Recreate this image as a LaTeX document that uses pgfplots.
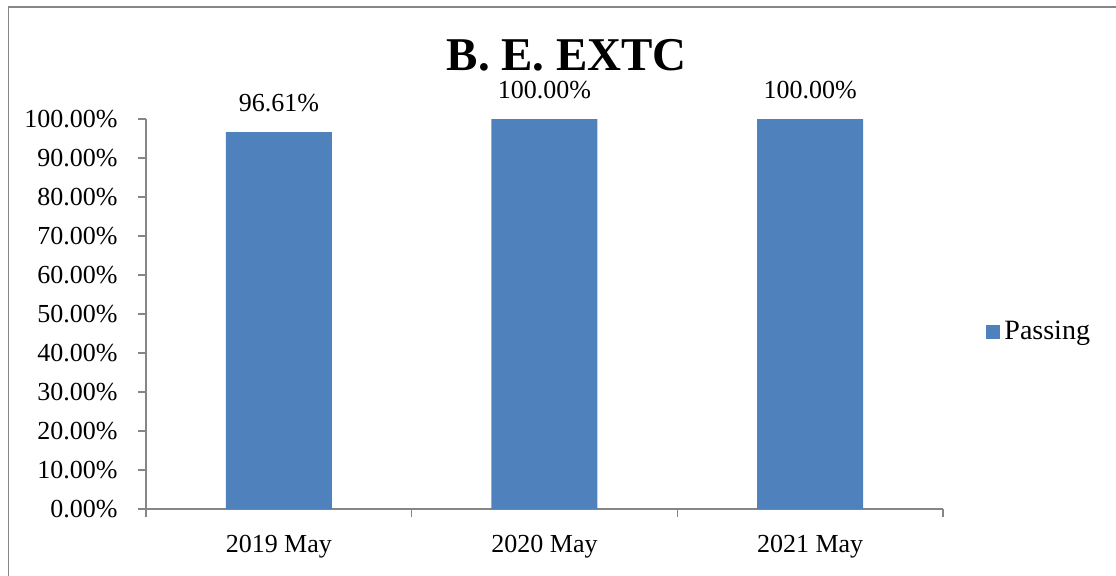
\documentclass[border=0pt]{standalone}
\usepackage{pgfplots}
\pgfplotsset{compat=1.18}
\usepackage{fontspec}
\setmainfont{Liberation Serif}
\definecolor{barblue}{HTML}{4F81BD}
\definecolor{axgray}{HTML}{868686}
\begin{document}
\begin{tikzpicture}[x=1pt,y=1pt]
\path[use as bounding box] (0,0) rectangle (558,287.5);
\draw[axgray, line width=0.7pt] (4.15,-5) -- (4.15,284) -- (565,284);
\begin{axis}[
  at={(73pt,33pt)}, anchor=south west,
  scale only axis, width=398.5pt, height=195pt,
  xmin=-0.5, xmax=2.5, ymin=0, ymax=100,
  axis x line=bottom, axis y line=left,
  axis line style={-, axgray, line width=0.8pt},
  tick align=outside, major tick length=4pt,
  every tick/.style={axgray, line width=0.8pt},
  xtick={-0.5,0.5,1.5,2.5}, xticklabels={},
  extra x ticks={0,1,2},
  extra x tick labels={2019 May,2020 May,2021 May},
  extra x tick style={major tick length=0pt},
  ytick={0,10,...,100},
  yticklabel={\pgfmathprintnumber[fixed,fixed zerofill,precision=2,assume math mode=true]{\tick}\%},
  tick label style={font=\fontsize{13}{15}\selectfont, text=black},
  yticklabel style={inner sep=0pt, xshift=-10pt},
  xticklabel style={inner sep=0pt, yshift=-13pt},
  ybar, bar width=53pt,
  nodes near coords={\pgfmathprintnumber[fixed,fixed zerofill,precision=2,assume math mode=true]{\pgfplotspointmeta}\%},
  every node near coord/.append style={font=\fontsize{13}{15}\selectfont, text=black, inner sep=0pt, yshift=10pt},
  title={\bfseries B. E. EXTC},
  title style={at={(axis description cs:0.528,1.093)}, anchor=base, font=\fontsize{23.5}{26}\selectfont, inner sep=0pt},
  legend style={at={(axis description cs:1.054,0.454)}, anchor=west, draw=none, fill=none, inner sep=0pt,
     font=\fontsize{14}{16}\selectfont},
  legend image code/.code={\fill[barblue] (0pt,-3.5pt) rectangle (7pt,3.5pt);},
  clip=false,
]
\addplot[fill=barblue, draw=none] coordinates {(0,96.61) (1,100) (2,100)};
\addlegendentry{Passing}
\end{axis}
\end{tikzpicture}
\end{document}
